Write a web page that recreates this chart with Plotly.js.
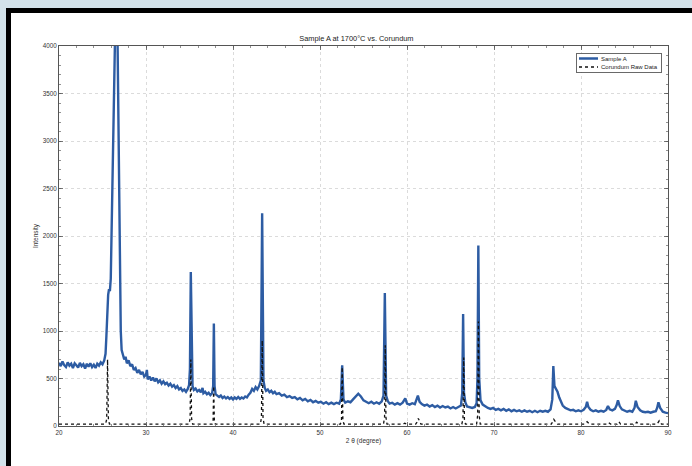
<!DOCTYPE html>
<html>
<head>
<meta charset="utf-8">
<script src="https://cdn.plot.ly/plotly-3.0.1.min.js"></script>
<style>
  html, body { margin: 0; padding: 0; }
  body { width: 692px; height: 466px; background: #d3e2ea; position: relative; overflow: hidden; }
  #frame { position: absolute; left: 6px; top: 8px; width: 686px; height: 458px; background: #000; }
  #paper { position: absolute; left: 11px; top: 13px; width: 681px; height: 453px; background: #fff; }
  #chart { position: absolute; left: 0; top: 0; width: 692px; height: 466px; }
</style>
</head>
<body>
<div id="frame"></div>
<div id="paper"></div>
<div id="chart"></div>
<script>
// ---- Data ----
const sampleTheta = [
  20.0,20.2,20.4,20.6,20.8,21.0,21.2,21.4,21.6,21.8,22.0,22.2,22.4,22.6,22.8,23.0,23.2,23.4,23.6,23.8,
  24.0,24.2,24.4,24.6,24.8,25.0,25.2,25.35,25.45,25.55,25.65,25.75,25.85,25.95,26.1,26.3,26.5,26.7,26.85,27.0,
  27.1,27.2,27.35,27.5,27.65,27.8,28.0,28.2,28.4,28.6,28.8,29.0,29.2,29.4,29.6,29.8,30.0,30.1,30.2,30.4,
  30.6,30.8,31.0,31.2,31.4,31.6,31.8,32.0,32.2,32.4,32.6,32.8,33.0,33.2,33.4,33.6,33.8,34.0,34.2,34.4,
  34.6,34.8,34.95,35.05,35.15,35.25,35.35,35.5,35.7,35.9,36.1,36.3,36.5,36.6,36.8,37.0,37.2,37.4,37.6,37.72,
  37.8,37.88,38.0,38.2,38.4,38.6,38.8,39.0,39.2,39.4,39.6,39.8,40.0,40.2,40.4,40.6,40.8,41.0,41.2,41.4,
  41.6,41.8,42.0,42.2,42.4,42.6,42.8,43.0,43.2,43.35,43.5,43.65,43.8,44.0,44.2,44.4,44.6,44.8,45.0,45.3,
  45.6,45.9,46.2,46.5,46.8,47.1,47.4,47.7,48.0,48.3,48.6,48.9,49.2,49.5,49.8,50.1,50.4,50.7,51.0,51.3,
  51.6,51.9,52.2,52.4,52.55,52.7,52.9,53.2,53.5,53.8,54.1,54.4,54.7,55.0,55.3,55.6,55.9,56.2,56.5,56.8,
  57.1,57.3,57.45,57.6,57.8,58.0,58.3,58.6,58.9,59.2,59.5,59.8,60.0,60.3,60.6,60.9,61.1,61.25,61.45,61.7,
  62.0,62.3,62.6,62.9,63.2,63.5,63.8,64.1,64.4,64.7,65.0,65.3,65.6,65.9,66.2,66.35,66.45,66.55,66.7,66.9,
  67.2,67.5,67.8,68.0,68.1,68.2,68.3,68.45,68.7,69.0,69.3,69.6,69.9,70.2,70.5,70.8,71.1,71.4,71.7,72.0,
  72.3,72.6,72.9,73.2,73.5,73.8,74.1,74.4,74.7,75.0,75.3,75.6,75.9,76.2,76.5,76.7,76.82,76.95,77.1,77.3,
  77.5,77.7,77.9,78.2,78.5,78.8,79.1,79.4,79.7,80.0,80.3,80.55,80.7,80.85,81.1,81.4,81.7,82.0,82.3,82.6,
  82.9,83.1,83.3,83.6,83.9,84.1,84.25,84.45,84.7,85.0,85.3,85.6,85.9,86.15,86.3,86.5,86.8,87.1,87.4,87.7,
  88.0,88.3,88.6,88.75,88.9,89.1,89.4,89.7,90.0
];
const sampleIntensity = [
  665,630,680,640,620,670,635,655,610,660,640,615,665,630,650,605,655,625,660,620,
  645,610,655,635,670,650,690,760,950,1300,1380,1440,1420,1550,2300,3600,4400,4300,3000,1700,
  1000,800,760,700,730,660,690,630,650,590,610,560,590,545,570,520,540,590,490,520,
  480,510,470,500,460,480,445,470,440,455,425,445,415,430,400,420,385,400,370,385,
  360,390,430,600,1620,600,420,380,395,365,380,355,400,345,360,335,350,325,345,420,
  1080,420,335,320,305,320,295,310,290,305,285,300,280,300,285,305,285,300,290,310,
  300,330,350,390,370,410,385,420,480,2240,480,400,370,385,355,370,345,360,335,345,
  320,330,305,315,295,305,280,295,270,285,260,275,250,265,245,255,235,250,230,245,
  230,245,235,280,640,280,245,260,250,280,310,340,310,270,255,240,255,235,250,235,
  260,320,1400,320,260,235,245,225,240,225,245,290,235,225,240,230,280,320,255,230,
  215,225,205,220,200,215,195,210,195,205,185,200,185,200,215,350,1180,350,250,205,
  195,190,200,240,500,1900,500,270,225,205,190,180,190,170,180,165,180,160,175,155,
  170,155,165,150,165,150,160,145,160,145,160,150,160,150,175,280,630,420,400,360,
  300,250,215,190,175,165,170,155,165,155,170,200,255,200,170,155,165,150,160,150,
  170,210,175,165,180,220,270,210,175,160,150,160,150,190,265,200,165,150,145,150,
  140,150,155,190,250,190,150,140,135
];
const corundumTheta = [
  20.0,25.35,25.48,25.58,25.68,25.8,34.95,35.07,35.15,35.24,35.36,37.6,37.71,37.78,37.86,37.97,
  43.15,43.27,43.36,43.45,43.57,52.35,52.47,52.55,52.63,52.75,57.3,57.42,57.5,57.58,57.7,
  59.55,59.74,59.95,61.0,61.15,61.3,61.45,61.6,66.3,66.43,66.52,66.6,66.72,68.0,68.12,68.21,68.3,68.42,
  76.6,76.87,77.1,77.3,80.4,80.7,81.0,83.0,83.2,83.4,84.15,84.35,84.55,86.2,86.4,86.6,88.75,88.99,89.25,90.0
];
const corundumIntensity = [
  20,20,70,700,70,20,20,80,700,80,20,20,50,420,50,20,
  20,90,900,90,20,20,60,620,60,20,20,90,850,90,20,
  20,30,20,20,40,80,40,20,20,70,720,70,20,20,110,1100,110,20,
  20,70,40,20,20,45,20,20,35,20,20,45,20,20,40,20,20,55,20,20
];
const xTicks = [20,30,40,50,60,70,80,90];
const yTicks = [0,500,1000,1500,2000,2500,3000,3500,4000];
const seriesNames = ['Sample A','Corundum Raw Data'];
const chartTitle = 'Sample A at 1700°C vs. Corundum';
const xLabel = '2 θ (degree)';
const yLabel = 'Intensity';

const FONT = '"Liberation Sans", Arial, sans-serif';

const traces = [
  {
    x: sampleTheta, y: sampleIntensity, type: 'scatter', mode: 'lines',
    name: seriesNames[0],
    line: {color: '#2d5ca3', width: 2.4}
  },
  {
    x: corundumTheta, y: corundumIntensity, type: 'scatter', mode: 'lines',
    name: seriesNames[1],
    line: {color: '#111111', width: 1.3, dash: 'dot'}
  }
];

const axisCommon = {
  showline: true, linecolor: '#555', linewidth: 1, mirror: 'ticks',
  ticks: 'inside', ticklen: 4, tickcolor: '#555', tickwidth: 0.8,
  showgrid: true, gridcolor: '#d2d2d2', gridwidth: 0.8, griddash: 'dot',
  zeroline: false,
  tickfont: {family: FONT, size: 6.3, color: '#333'}
};

const layout = {
  width: 692, height: 466,
  paper_bgcolor: 'rgba(0,0,0,0)', plot_bgcolor: '#ffffff',
  margin: {l: 59, r: 24, t: 46, b: 40},
  showlegend: true,
  title: {text: chartTitle, font: {family: FONT, size: 7.4, color: '#222'}, x: 0.515, xanchor: 'center', y: 0.918, yanchor: 'middle'},
  xaxis: Object.assign({}, axisCommon, {
    range: [20, 90], tickmode: 'array', tickvals: xTicks, ticktext: xTicks.map(String),
    minor: {dtick: 2, ticklen: 2, tickcolor: '#777', ticks: 'inside', showgrid: false},
    title: {text: xLabel, font: {family: FONT, size: 6.5, color: '#333'}, standoff: 3}
  }),
  yaxis: Object.assign({}, axisCommon, {
    range: [0, 4000], tickmode: 'array', tickvals: yTicks, ticktext: yTicks.map(String),
    minor: {dtick: 100, ticklen: 2, tickcolor: '#777', ticks: 'inside', showgrid: false},
    title: {text: yLabel, font: {family: FONT, size: 6.5, color: '#333'}, standoff: 3}
  }),
  legend: {
    x: 0.988, xanchor: 'right', y: 0.981, yanchor: 'top',
    bgcolor: '#ffffff', bordercolor: '#444', borderwidth: 0.8,
    font: {family: FONT, size: 6, color: '#222'},
    tracegroupgap: 0, itemwidth: 30
  }
};

Plotly.newPlot('chart', traces, layout, {displayModeBar: false, staticPlot: true}).then(function (gd) {
  // Compact the legend to match the reference's tight MATLAB-style box
  const leg = gd.querySelector('g.legend');
  if (!leg) return;
  leg.setAttribute('transform', 'translate(576,53)');
  const bg = leg.querySelector('rect.bg');
  if (bg) { bg.setAttribute('width', 85); bg.setAttribute('height', 19); bg.setAttribute('x', 0); bg.setAttribute('y', 0); }
  leg.querySelectorAll('g.traces').forEach(function (t, i) {
    t.setAttribute('transform', 'translate(0,' + (5.5 + i * 8.5) + ')');
    const txt = t.querySelector('text.legendtext');
    if (txt) txt.setAttribute('x', 25);
    t.querySelectorAll('path.js-line').forEach(function (p) { p.setAttribute('d', 'M3,0h19'); });
  });
});
</script>
</body>
</html>
